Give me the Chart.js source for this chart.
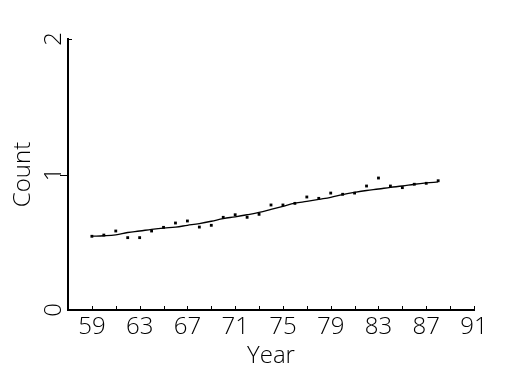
<!DOCTYPE html>
<html>
<head>
<meta charset="utf-8">
<script src="https://cdn.jsdelivr.net/npm/chart.js@4/dist/chart.umd.min.js"></script>
<style>
  html, body { margin: 0; padding: 0; background: #fff; }
  #wrap { width: 525px; height: 375px; }
</style>
</head>
<body>
<div id="wrap"><canvas id="myChart" width="525" height="375"></canvas></div>
<script>
// data
var years = [59, 60, 61, 62, 63, 64, 65, 66, 67, 68, 69, 70, 71, 72, 73,
             74, 75, 76, 77, 78, 79, 80, 81, 82, 83, 84, 85, 86, 87, 88];
var counts = [0.544, 0.553, 0.583, 0.534, 0.534, 0.583, 0.610, 0.642, 0.657, 0.612,
              0.625, 0.684, 0.703, 0.684, 0.706, 0.775, 0.775, 0.787, 0.834, 0.824,
              0.863, 0.854, 0.863, 0.915, 0.974, 0.915, 0.903, 0.928, 0.935, 0.954];
var trend = [0.545, 0.548, 0.555, 0.572, 0.583, 0.595, 0.605, 0.612, 0.625, 0.638,
             0.655, 0.675, 0.688, 0.703, 0.720, 0.742, 0.765, 0.788, 0.802, 0.817,
             0.832, 0.852, 0.868, 0.882, 0.893, 0.905, 0.915, 0.928, 0.938, 0.945];
var xTickValues = [59, 61, 63, 65, 67, 69, 71, 73, 75, 77, 79, 81, 83, 85, 87, 89, 91];
var xLabelYears = [59, 63, 67, 71, 75, 79, 83, 87, 91];
var yTickValues = [0, 1, 2];

var FONT = "'Open Sans', 'Liberation Sans', sans-serif";
var WEIGHT = 300;
var INK = "#000";

// ticks and rotated y labels, placed with the chart's own scales
var axisExtras = {
  id: "axisExtras",
  afterDraw: function (chart) {
    var ctx = chart.ctx;
    var xs = chart.scales.x, ys = chart.scales.y;
    var area = chart.chartArea;
    ctx.save();
    ctx.strokeStyle = INK;
    ctx.lineWidth = 1;
    // small inward ticks on the x axis
    xTickValues.forEach(function (v) {
      var px = Math.round(xs.getPixelForValue(v)) + 0.5;
      ctx.beginPath();
      ctx.moveTo(px, area.bottom);
      ctx.lineTo(px, area.bottom - 4);
      ctx.stroke();
    });
    // y ticks
    yTickValues.forEach(function (v) {
      if (v === 0) return;
      var py = Math.round(ys.getPixelForValue(v)) + 0.5;
      ctx.beginPath();
      if (v === 2) {
        ctx.moveTo(area.left, py);
        ctx.lineTo(area.left + 4, py);
      } else {
        ctx.moveTo(area.left - 8, py);
        ctx.lineTo(area.left, py);
      }
      ctx.stroke();
    });
    // rotated y labels
    ctx.fillStyle = INK;
    ctx.font = WEIGHT + " 24px " + FONT;
    ctx.textAlign = "center";
    ctx.textBaseline = "middle";
    yTickValues.forEach(function (v) {
      var py = ys.getPixelForValue(v);
      ctx.save();
      ctx.translate(54, py);
      ctx.rotate(-Math.PI / 2);
      ctx.fillText(String(v), 0, 0);
      ctx.restore();
    });
    ctx.restore();
  }
};

var ctx = document.getElementById("myChart").getContext("2d");
var chart = new Chart(ctx, {
  type: "scatter",
  data: {
    datasets: [
      {
        label: "Count",
        data: years.map(function (y, i) { return { x: y, y: counts[i] }; }),
        showLine: false,
        pointStyle: "rect",
        pointRadius: 2,
        backgroundColor: INK,
        borderColor: INK,
        borderWidth: 0
      },
      {
        label: "Trend",
        data: years.map(function (y, i) { return { x: y, y: trend[i] }; }),
        showLine: true,
        pointRadius: 0,
        borderColor: INK,
        borderWidth: 1.3,
        tension: 0.4,
        fill: false
      }
    ]
  },
  options: {
    responsive: false,
    animation: false,
    events: [],
    layout: { padding: { top: 39, right: 51, left: 0, bottom: 0 } },
    plugins: { legend: { display: false }, tooltip: { enabled: false } },
    scales: {
      x: {
        type: "linear",
        min: 57,
        max: 91,
        afterBuildTicks: function (scale) {
          scale.ticks = xTickValues.map(function (v) { return { value: v }; });
        },
        afterFit: function (scale) { scale.height = 65; },
        border: { display: true, color: INK, width: 2 },
        grid: { display: false, drawTicks: false },
        ticks: {
          autoSkip: false,
          maxRotation: 0,
          padding: 3,
          color: INK,
          font: { family: FONT, size: 24, weight: WEIGHT },
          callback: function (v) {
            return xLabelYears.indexOf(v) >= 0 ? String(v) : "";
          }
        },
        title: {
          display: true,
          text: "Year",
          color: INK,
          font: { family: FONT, size: 24, weight: WEIGHT },
          padding: { top: 0, bottom: 4 }
        }
      },
      y: {
        min: 0,
        max: 2,
        afterBuildTicks: function (scale) {
          scale.ticks = yTickValues.map(function (v) { return { value: v }; });
        },
        afterFit: function (scale) { scale.width = 68; },
        border: { display: true, color: INK, width: 2 },
        grid: { display: false, drawTicks: false },
        ticks: { display: false },
        title: {
          display: true,
          text: "Count",
          color: INK,
          font: { family: FONT, size: 24, weight: WEIGHT },
          padding: { top: 9, bottom: 0 }
        }
      }
    }
  },
  plugins: [axisExtras]
});
</script>
</body>
</html>
